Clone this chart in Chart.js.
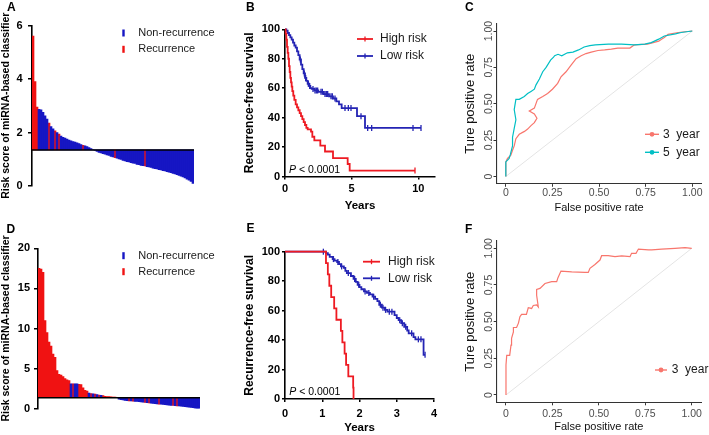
<!DOCTYPE html>
<html>
<head>
<meta charset="utf-8">
<title>miRNA risk score, recurrence-free survival and ROC</title>
<script src="https://cdn.jsdelivr.net/npm/chart.js@4.4.1/dist/chart.umd.min.js"></script>
<style>
html,body{margin:0;padding:0;background:#fff}
body{position:relative;width:709px;height:435px;overflow:hidden;font-family:'Liberation Sans',Arial,sans-serif}
canvas{position:absolute;display:block}
.pl{position:absolute;font-size:12px;line-height:12px;font-weight:bold;color:#000}
</style>
</head>
<body>
<canvas id="cA" width="230" height="215" style="left:0px;top:0px"></canvas>
<canvas id="cB" width="230" height="215" style="left:230px;top:0px"></canvas>
<canvas id="cC" width="249" height="215" style="left:460px;top:0px"></canvas>
<canvas id="cD" width="230" height="220" style="left:0px;top:215px"></canvas>
<canvas id="cE" width="230" height="220" style="left:230px;top:215px"></canvas>
<canvas id="cF" width="249" height="220" style="left:460px;top:215px"></canvas>
<div class="pl" style="left:7px;top:1px">A</div>
<div class="pl" style="left:246px;top:1px">B</div>
<div class="pl" style="left:465px;top:1px">C</div>
<div class="pl" style="left:6.5px;top:222.5px">D</div>
<div class="pl" style="left:246.5px;top:222px">E</div>
<div class="pl" style="left:465px;top:222.5px">F</div>
<script>
// ================= DATA =================
// Panel A: risk score waterfall (training set), baseline = cut-off
const baseA = 1.35;
const riskA = [5.6, 3.9, 2.95, 2.87, 2.85, 2.75, 2.62, 2.5, 2.35, 2.22,
  2.14, 2.06, 2.0, 1.94, 1.87, 1.82, 1.79, 1.75, 1.72, 1.69,
  1.66, 1.64, 1.61, 1.59, 1.55, 1.52, 1.5, 1.47, 1.44, 1.4,
  1.36, 1.33, 1.29, 1.26, 1.24, 1.21, 1.19, 1.16, 1.14, 1.11,
  1.09, 1.06, 1.04, 1.01, 0.99, 0.96, 0.94, 0.91, 0.9, 0.87,
  0.85, 0.84, 0.81, 0.8, 0.77, 0.76, 0.75, 0.72, 0.71, 0.69,
  0.67, 0.65, 0.64, 0.61, 0.6, 0.57, 0.56, 0.54, 0.52, 0.5,
  0.47, 0.45, 0.42, 0.4, 0.37, 0.34, 0.3, 0.26, 0.22, 0.17, 0.1];
const recurA = [1,1,1,0,0,0,0,0,1,0, 0,1,0,1,0,0,0,0,0,0, 0,0,0,0,0,1,0,0,0,0,
  0,0,0,0,0,0,0,0,0,0, 0,1,0,0,0,0,0,0,0,0, 0,0,0,0,0,0,1,0,0,0,
  0,0,0,0,0,0,0,0,0,0, 0,0,0,0,0,0,0,0,0,0, 0];
const ticksA = [0, 2, 4, 6];

// Panel D: risk score waterfall (validation set)
const baseD = 1.38;
const riskD = [17.5, 17.4, 17.0, 11.0, 9.5, 8.3, 7.8, 6.8, 6.4, 4.75,
  4.3, 4.2, 4.0, 3.75, 3.6, 3.5, 3.1, 3.1, 3.1, 3.1,
  3.05, 3.0, 2.6, 2.3, 2.2, 1.95, 1.9, 1.85, 1.82, 1.75,
  1.7, 1.68, 1.65, 1.55, 1.52, 1.5, 1.48, 1.46, 1.44, 1.42,
  1.2, 1.12, 1.08, 1.04, 1.0, 0.98, 0.96, 0.94, 0.92, 0.9,
  0.88, 0.84, 0.8, 0.77, 0.74, 0.71, 0.68, 0.66, 0.63, 0.6,
  0.57, 0.55, 0.53, 0.5, 0.48, 0.45, 0.42, 0.4, 0.38, 0.36,
  0.34, 0.31, 0.28, 0.25, 0.22, 0.18, 0.15, 0.12, 0.08, 0.05, 0.02];
const recurD = [1,1,1,1,1,1,1,1,1,1, 1,1,1,1,1,1,0,1,0,0, 1,1,1,1,1,0,1,0,1,0,
  1,0,1,1,1,1,1,1,1,1, 0,0,0,0,0,1,0,1,0,0, 0,0,0,1,0,1,0,0,0,0,
  1,0,0,0,0,0,0,1,0,1, 0,0,0,0,0,0,0,0,0,0, 0];
const ticksD = [0, 5, 10, 15, 20];
const groupLabels = ['Non-recurrence', 'Recurrence'];

// Panel B: Kaplan-Meier (training)
const riskLabels = ['High risk', 'Low risk'];
const kmB_highT = [0, 0.05, 0.1, 0.15, 0.2, 0.25, 0.3, 0.35, 0.4, 0.45, 0.5, 0.55, 0.62, 0.7, 0.8, 0.9, 1.0, 1.1, 1.2, 1.3, 1.4, 1.5, 1.6, 1.7, 1.95, 2.05, 2.2, 2.65, 3.0, 3.6, 4.7, 4.85, 9.75];
const kmB_highS = [100, 97, 93, 88, 84, 80, 75, 71, 67, 64, 61, 58, 55, 52, 49, 47, 45, 43, 41, 39, 37, 35, 33, 32, 30.5, 27, 24.5, 21, 17, 12.5, 8.5, 4, 4];
const kmB_lowT = [0, 0.1, 0.2, 0.3, 0.4, 0.5, 0.6, 0.7, 0.8, 0.9, 1.0, 1.1, 1.2, 1.3, 1.4, 1.5, 1.6, 1.7, 1.8, 1.9, 2.0, 2.2, 2.5, 2.9, 3.3, 3.6, 3.85, 4.05, 4.25, 5.4, 6.0, 10.2];
const kmB_lowS = [100, 99, 97.5, 96, 94.5, 93, 91, 89, 87.5, 85, 82.5, 79.5, 76, 73, 70, 67, 65, 63, 61.5, 60, 59.5, 58.5, 57.5, 56, 54.5, 53, 51, 49, 46.5, 41, 33, 33];
const censB_highT = [9.75];
const censB_highS = [4];
const censB_lowT = [1.15, 1.45, 1.55, 1.75, 1.85, 2.1, 2.25, 2.35, 2.45, 2.7, 2.8, 3.0, 3.1, 3.2, 3.45, 3.55, 3.75, 4.5, 4.75, 4.95, 5.7, 6.2, 6.5, 9.6, 10.2];
const censB_lowS = [79.5, 70, 67, 63, 61.5, 59.5, 58.5, 58.5, 58.5, 57.5, 57.5, 56, 56, 56, 54.5, 54.5, 53, 46.5, 46.5, 46.5, 41, 33, 33, 33, 33];
const kmYTicks = [0, 20, 40, 60, 80, 100];
const kmBXTicks = [0, 5, 10];

// Panel E: Kaplan-Meier (validation)
const kmE_highT = [0, 1.1, 1.15, 1.19, 1.24, 1.32, 1.38, 1.5, 1.54, 1.6, 1.64, 1.7, 1.83, 1.84];
const kmE_highS = [100, 92.3, 84.6, 76.9, 69.2, 61.5, 53.8, 46.2, 38.5, 30.8, 23.1, 15.4, 7.7, 0];
const kmE_lowT = [0, 1.1, 1.15, 1.2, 1.28, 1.33, 1.4, 1.45, 1.5, 1.58, 1.62, 1.66, 1.77, 1.84, 1.9, 1.95, 2.0, 2.05, 2.12, 2.2, 2.28, 2.35, 2.42, 2.48, 2.53, 2.6, 2.68, 2.75, 2.94, 3.0, 3.05, 3.12, 3.2, 3.28, 3.32, 3.45, 3.5, 3.72, 3.76];
const kmE_lowS = [100, 99, 98, 96.5, 95, 94, 93, 91.5, 90, 89, 87, 85.5, 83.5, 81.5, 79.5, 77.5, 76, 74.5, 73, 72, 71, 69.5, 68, 66.5, 64, 62, 60.5, 59.3, 57, 55, 53.5, 51.5, 49, 46.5, 44.6, 42, 40.5, 30, 30];
const censE_lowT = [1.03, 1.3, 1.42, 1.52, 1.7, 1.87, 1.98, 2.15, 2.25, 2.38, 2.56, 2.63, 2.7, 2.8, 2.87, 3.08, 3.15, 3.24, 3.4, 3.58, 3.65, 3.76];
const censE_lowS = [100, 95, 93, 90, 85.5, 81.5, 77.5, 73, 72, 69.5, 64, 62, 60.5, 59.3, 59.3, 53.5, 51.5, 49, 44.6, 40.5, 40.5, 30];
const kmEXTicks = [0, 1, 2, 3, 4];
const pValueText = ['P', ' < 0.0001'];

// Panels C and F: ROC curves
const rocLabels = ['3  year', '5  year'];
const rocC3_fpr = [0, 0, 0.009, 0.027, 0.036, 0.045, 0.054, 0.072, 0.1, 0.117, 0.135, 0.153, 0.167, 0.153, 0.126, 0.153, 0.17, 0.198, 0.224, 0.25, 0.278, 0.296, 0.323, 0.35, 0.377, 0.404, 0.43, 0.458, 0.494, 0.53, 0.566, 0.6, 0.665, 0.69, 0.76, 0.82, 0.835, 0.85, 0.87, 0.925, 1.0];
const rocC3_tpr = [0, 0.10, 0.124, 0.146, 0.18, 0.21, 0.26, 0.29, 0.31, 0.326, 0.35, 0.37, 0.40, 0.43, 0.45, 0.47, 0.53, 0.55, 0.57, 0.60, 0.64, 0.685, 0.72, 0.765, 0.81, 0.83, 0.845, 0.855, 0.866, 0.87, 0.876, 0.883, 0.883, 0.905, 0.91, 0.93, 0.944, 0.955, 0.977, 0.99, 1.0];
const rocC5_fpr = [0, 0, 0.018, 0.024, 0.036, 0.036, 0.045, 0.054, 0.045, 0.054, 0.072, 0.099, 0.117, 0.135, 0.153, 0.162, 0.18, 0.198, 0.216, 0.24, 0.256, 0.262, 0.28, 0.3, 0.33, 0.36, 0.39, 0.42, 0.45, 0.48, 0.55, 0.62, 0.69, 0.745, 0.78, 0.82, 0.85, 0.91, 0.94, 1.0];
const rocC5_tpr = [0, 0.10, 0.124, 0.15, 0.21, 0.27, 0.33, 0.39, 0.46, 0.53, 0.53, 0.55, 0.57, 0.585, 0.60, 0.63, 0.67, 0.72, 0.75, 0.80, 0.82, 0.83, 0.84, 0.83, 0.85, 0.855, 0.87, 0.89, 0.90, 0.905, 0.91, 0.91, 0.905, 0.91, 0.92, 0.944, 0.966, 0.98, 0.99, 1.0];
const rocF3_fpr = [0, 0, 0.004, 0.02, 0.027, 0.03, 0.04, 0.04, 0.057, 0.067, 0.075, 0.084, 0.11, 0.12, 0.138, 0.147, 0.165, 0.174, 0.165, 0.165, 0.183, 0.21, 0.246, 0.273, 0.28, 0.296, 0.354, 0.425, 0.443, 0.452, 0.479, 0.506, 0.515, 0.55, 0.587, 0.623, 0.668, 0.676, 0.70, 0.713, 0.767, 0.785, 0.838, 0.91, 0.964, 1.0];
const rocF3_tpr = [0, 0.205, 0.27, 0.27, 0.34, 0.386, 0.43, 0.46, 0.46, 0.49, 0.534, 0.55, 0.55, 0.595, 0.59, 0.61, 0.614, 0.6, 0.68, 0.72, 0.727, 0.76, 0.773, 0.773, 0.8, 0.845, 0.84, 0.836, 0.836, 0.864, 0.89, 0.92, 0.95, 0.95, 0.943, 0.948, 0.943, 0.966, 0.966, 0.995, 0.989, 0.989, 0.995, 1.0, 1.005, 1.0];
const diagX = [0, 1];
const diagY = [0, 1];
const rocTickValues = [0, 0.25, 0.5, 0.75, 1];
const rocTickLabels = ['0', '0.25', '0.50', '0.75', '1.00'];

// ================= STYLE =================
const FONT = "'Liberation Sans', Arial, sans-serif";
Chart.defaults.font.family = FONT;
Chart.defaults.color = '#000';
const BAR_BLUE = '#1616C4', BAR_RED = '#F01212';
const KM_RED = '#EE1A22', KM_BLUE = '#2424B4';
const ROC_RED = '#F8766D', ROC_TEAL = '#00BFC4';

// ================= HELPERS =================
const pts = (xs, ys) => xs.map((x, i) => ({x: x, y: ys[i]}));
const setTicks = vals => s => { s.ticks = vals.map(v => ({value: v})); };
const fixW = w => s => { s.width = w; };
const fixH = h => s => { s.height = h; };

function gpAxis(o) {
  return {
    type: 'linear', display: true, min: o.min, max: o.max,
    afterBuildTicks: setTicks(o.ticks),
    afterFit: o.w != null ? fixW(o.w) : fixH(o.h),
    grid: {display: true, drawOnChartArea: false, drawTicks: true, tickLength: o.tl, tickWidth: 1.5, tickColor: '#000', color: '#000', lineWidth: 1.5},
    border: {display: true, color: '#000', width: 1.6},
    ticks: {display: true, autoSkip: false, maxRotation: 0, minRotation: 0, padding: o.pad, color: '#000',
      font: {size: o.tsize, weight: 'bold'}, callback: (v, i) => String(o.ticks[i])},
    title: o.title ? {display: true, text: o.title, color: '#000', font: {size: o.titleSize, weight: 'bold'}, padding: o.titlePad} : {display: false}
  };
}
function ggAxis(o) {
  return {
    type: 'linear', display: true, min: -0.05, max: 1.05,
    afterBuildTicks: setTicks(rocTickValues),
    afterFit: o.w != null ? fixW(o.w) : fixH(o.h),
    grid: {display: true, drawOnChartArea: false, drawTicks: true, tickLength: 3, tickWidth: 1, tickColor: '#333', color: '#333', lineWidth: 1},
    border: {display: true, color: '#333', width: 1.1},
    ticks: {display: o.showTicks, autoSkip: false, maxRotation: 0, minRotation: 0, padding: o.pad, color: '#4D4D4D',
      font: {size: 10.5}, callback: (v, i) => rocTickLabels[i]},
    title: {display: true, text: o.title, color: '#111', font: {size: o.titleSize}, padding: o.titlePad}
  };
}

// ================= PLUGINS =================
const baselinePlugin = {
  id: 'baseline',
  afterDatasetsDraw(chart, args, o) {
    if (o.value == null) return;
    const {ctx, chartArea} = chart;
    const y = chart.scales.y.getPixelForValue(o.value);
    ctx.save();
    ctx.strokeStyle = '#000'; ctx.lineWidth = 1.5;
    ctx.beginPath(); ctx.moveTo(chartArea.left, y); ctx.lineTo(chartArea.right, y); ctx.stroke();
    ctx.restore();
  }
};
const keyPlugin = {
  id: 'keys',
  afterDraw(chart, args, o) {
    if (!o.items) return;
    const ctx = chart.ctx;
    o.items.forEach((dsIndex, k) => {
      const ds = chart.data.datasets[dsIndex];
      const col = o.kind === 'bar' ? ds.backgroundColor : ds.borderColor;
      const y = o.ys[k];
      ctx.save();
      ctx.fillStyle = col; ctx.strokeStyle = col;
      if (o.kind === 'bar') {
        ctx.fillRect(o.x0, y - o.h / 2, o.w, o.h);
      } else {
        ctx.lineWidth = o.lw;
        ctx.beginPath(); ctx.moveTo(o.x0, y); ctx.lineTo(o.x1, y); ctx.stroke();
        const m = (o.x0 + o.x1) / 2;
        if (o.kind === 'km') {
          ctx.lineWidth = 1.3;
          ctx.beginPath(); ctx.moveTo(m, y - 2.5); ctx.lineTo(m, y + 2.5); ctx.stroke();
        } else {
          ctx.beginPath(); ctx.arc(m, y, 2.4, 0, Math.PI * 2); ctx.fill();
        }
      }
      ctx.fillStyle = o.textColor; ctx.font = o.font;
      ctx.textBaseline = 'middle'; ctx.textAlign = 'left';
      ctx.fillText(ds.label, o.tx, y);
      ctx.restore();
    });
  }
};
const pnotePlugin = {
  id: 'pnote',
  afterDraw(chart, args, o) {
    if (o.x == null) return;
    const ctx = chart.ctx;
    ctx.save();
    ctx.fillStyle = '#000'; ctx.textBaseline = 'middle'; ctx.textAlign = 'left';
    ctx.font = 'italic ' + o.size + 'px ' + FONT;
    ctx.fillText(pValueText[0], o.x, o.y);
    const w = ctx.measureText(pValueText[0]).width;
    ctx.font = o.size + 'px ' + FONT;
    ctx.fillText(pValueText[1], o.x + w, o.y);
    ctx.restore();
  }
};
const rotYPlugin = {
  id: 'rotY',
  afterDraw(chart, args, o) {
    if (o.gap == null) return;
    const s = chart.scales.y, ctx = chart.ctx;
    ctx.save();
    ctx.font = '10.5px ' + FONT; ctx.fillStyle = '#4D4D4D';
    ctx.textAlign = 'center'; ctx.textBaseline = 'alphabetic';
    s.ticks.forEach((t, i) => {
      const y = s.getPixelForValue(t.value);
      ctx.save();
      ctx.translate(chart.chartArea.left - o.gap, y);
      ctx.rotate(-Math.PI / 2);
      ctx.fillText(rocTickLabels[i], 0, 0);
      ctx.restore();
    });
    ctx.restore();
  }
};

// ================= CHART BUILDERS =================
function waterfall(id, risk, recur, base, ticks, ymax, L) {
  const patients = risk.map((_, i) => i + 1);
  return new Chart(document.getElementById(id), {
    type: 'bar',
    data: {
      labels: patients,
      datasets: [
        {label: groupLabels[0], data: risk.map((v, i) => recur[i] ? null : v), backgroundColor: BAR_BLUE,
          base: base, grouped: false, borderWidth: 0, barPercentage: 1, categoryPercentage: 1},
        {label: groupLabels[1], data: risk.map((v, i) => recur[i] ? v : null), backgroundColor: BAR_RED,
          base: base, grouped: false, borderWidth: 0, barPercentage: 1, categoryPercentage: 1}
      ]
    },
    options: {
      responsive: false, animation: false, devicePixelRatio: 1,
      layout: {padding: L.padding, autoPadding: false},
      plugins: {
        legend: {display: false}, tooltip: {enabled: false},
        baseline: {value: base},
        keys: {kind: 'bar', items: [0, 1], x0: 122.3, w: 2.4, h: 7, tx: 138.3, ys: L.keyYs, font: '11px ' + FONT, textColor: '#1a1a1a'}
      },
      scales: {
        x: {display: false},
        y: gpAxis({min: 0, max: ymax, ticks: ticks, w: L.yw, tl: 4, pad: L.tickPad, tsize: 11,
          title: 'Risk score of miRNA-based classifier', titleSize: 10.5, titlePad: {top: 0, bottom: 0}})
      }
    },
    plugins: [baselinePlugin, keyPlugin]
  });
}

function kmChart(id, d, L) {
  return new Chart(document.getElementById(id), {
    type: 'line',
    data: {
      datasets: [
        {label: riskLabels[0], data: pts(d.hT, d.hS), borderColor: KM_RED, borderWidth: 1.8, stepped: 'before', pointRadius: 0, clip: false},
        {label: riskLabels[1], data: pts(d.lT, d.lS), borderColor: KM_BLUE, borderWidth: 1.8, stepped: 'before', pointRadius: 0, clip: false},
        {label: riskLabels[0] + ' (censored)', data: pts(d.chT, d.chS), showLine: false, pointStyle: 'line', rotation: 90, pointRadius: 3, borderColor: KM_RED, borderWidth: 1.3, clip: false},
        {label: riskLabels[1] + ' (censored)', data: pts(d.clT, d.clS), showLine: false, pointStyle: 'line', rotation: 90, pointRadius: 3, borderColor: KM_BLUE, borderWidth: 1.3, clip: false}
      ]
    },
    options: {
      responsive: false, animation: false, devicePixelRatio: 1,
      layout: {padding: L.padding, autoPadding: false},
      plugins: {
        legend: {display: false}, tooltip: {enabled: false},
        keys: {kind: 'km', items: [0, 1], x0: L.kx0, x1: L.kx1, tx: L.ktx, ys: L.kys, lw: 1.8, font: '12px ' + FONT, textColor: '#1a1a1a'},
        pnote: {x: L.px, y: L.py, size: 10.5}
      },
      scales: {
        x: gpAxis({min: 0, max: d.xmax, ticks: d.xticks, h: L.xh, tl: 3, pad: L.xpad, tsize: 11,
          title: 'Years', titleSize: 11.5, titlePad: {top: 0, bottom: L.xtpad}}),
        y: gpAxis({min: 0, max: 100, ticks: kmYTicks, w: 55, tl: 3, pad: 2, tsize: 11,
          title: 'Recurrence-free survival', titleSize: 12, titlePad: {top: 12, bottom: 0}})
      }
    },
    plugins: [keyPlugin, pnotePlugin]
  });
}

function rocChart(id, curves, L) {
  const datasets = curves.map(c => ({label: c.label, data: pts(c.x, c.y), borderColor: c.color, borderWidth: 1.2,
    pointRadius: 0, tension: 0, clip: false}));
  datasets.push({label: 'reference', data: pts(diagX, diagY), borderColor: '#E4E4E4', borderWidth: 1, pointRadius: 0});
  return new Chart(document.getElementById(id), {
    type: 'line',
    data: {datasets: datasets},
    options: {
      responsive: false, animation: false, devicePixelRatio: 1,
      layout: {padding: L.padding, autoPadding: false},
      plugins: {
        legend: {display: false}, tooltip: {enabled: false},
        keys: {kind: 'roc', items: L.keyItems, x0: L.kx0, x1: L.kx1, tx: L.ktx, ys: L.kys, lw: 1.4, font: '12px ' + FONT, textColor: '#1a1a1a'},
        rotY: {gap: 4.3}
      },
      scales: {
        x: ggAxis({h: L.xh, showTicks: true, pad: L.xpad, title: 'False positive rate', titleSize: 11, titlePad: {top: 0, bottom: L.xtpad}}),
        y: ggAxis({w: L.yw, showTicks: false, pad: 2, title: 'Ture positive rate', titleSize: 13, titlePad: {top: 2.2, bottom: 0}})
      }
    },
    plugins: [keyPlugin, rotYPlugin]
  });
}

// ================= BUILD =================
waterfall('cA', riskA, recurA, baseA, ticksA, 6,
  {padding: {left: 0, right: 36, top: 25.5, bottom: 29}, yw: 32, tickPad: 5.3, keyYs: [33, 49.3]});
waterfall('cD', riskD, recurD, baseD, ticksD, 20,
  {padding: {left: 0, right: 30, top: 33.3, bottom: 26.3}, yw: 38, tickPad: 4, keyYs: [40.7, 56.7]});

kmChart('cB', {hT: kmB_highT, hS: kmB_highS, lT: kmB_lowT, lS: kmB_lowS, chT: censB_highT, chS: censB_highS,
  clT: censB_lowT, clS: censB_lowS, xmax: 11.25, xticks: kmBXTicks},
  {padding: {left: 0, right: 25, top: 29.3, bottom: 0}, xh: 38.5, xpad: 3, xtpad: 2,
   kx0: 127, kx1: 143, ktx: 150, kys: [39, 56], px: 59, py: 170});
kmChart('cE', {hT: kmE_highT, hS: kmE_highS, lT: kmE_lowT, lS: kmE_lowS, chT: [], chS: [],
  clT: censE_lowT, clS: censE_lowS, xmax: 4, xticks: kmEXTicks},
  {padding: {left: 0, right: 26, top: 36.7, bottom: 0}, xh: 36, xpad: 5, xtpad: 0,
   kx0: 133, kx1: 150, ktx: 158, kys: [46.7, 63.3], px: 59.3, py: 176.7});

rocChart('cC', [
  {label: rocLabels[1], x: rocC5_fpr, y: rocC5_tpr, color: ROC_TEAL},
  {label: rocLabels[0], x: rocC3_fpr, y: rocC3_tpr, color: ROC_RED}
], {padding: {left: 0, right: 7.4, top: 23.75, bottom: 0}, xh: 31.25, yw: 36.5, xpad: 0.5, xtpad: 0,
   keyItems: [1, 0], kx0: 185, kx1: 199, ktx: 203, kys: [134.3, 152.3]});
rocChart('cF', [
  {label: rocLabels[0], x: rocF3_fpr, y: rocF3_tpr, color: ROC_RED}
], {padding: {left: 0, right: 8, top: 26, bottom: 0}, xh: 32.7, yw: 36.7, xpad: 2.4, xtpad: 1.1,
   keyItems: [0], kx0: 195, kx1: 207, ktx: 211.7, kys: [155]});
</script>
</body>
</html>
